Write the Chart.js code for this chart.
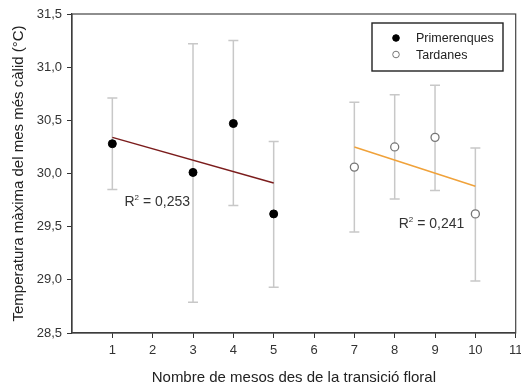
<!DOCTYPE html>
<html>
<head>
<meta charset="utf-8">
<script src="https://cdn.jsdelivr.net/npm/chart.js@4.4.0/dist/chart.umd.min.js"></script>
<style>
  html, body { margin: 0; padding: 0; background: #fff; }
  #wrap { width: 521px; height: 387px; }
</style>
</head>
<body>
<div id="wrap"><canvas id="myChart" width="521" height="387"></canvas></div>
<script>
// values
var earlyX = [1, 3, 4, 5];
var earlyMean = [30.28, 30.01, 30.47, 29.62];
var earlyHigh = [30.71, 31.22, 31.25, 30.30];
var earlyLow = [29.85, 28.79, 29.70, 28.93];

var lateX = [7, 8, 9, 10];
var lateMean = [30.06, 30.25, 30.34, 29.62];
var lateHigh = [30.67, 30.74, 30.83, 30.24];
var lateLow = [29.45, 29.76, 29.84, 28.99];

// regression line ends
var earlyFitX = [1, 5];
var earlyFitY = [30.34, 29.91];
var lateFitX = [7, 10];
var lateFitY = [30.25, 29.88];

var r2Text = ['0,253', '0,241'];
var r2Pos = [[1.3, 29.74], [8.1, 29.53]];

var xTicks = [1, 2, 3, 4, 5, 6, 7, 8, 9, 10, 11];
var yTicks = [28.5, 29.0, 29.5, 30.0, 30.5, 31.0, 31.5];

var FONT = "'Liberation Sans', Arial, sans-serif";

function toPoints(xs, ys) {
  return xs.map(function (x, i) { return { x: x, y: ys[i] }; });
}

// grey error bars behind the points
var errorBars = {
  id: 'errorBars',
  beforeDatasetsDraw: function (chart) {
    var ctx = chart.ctx;
    var xs = chart.scales.x, ys = chart.scales.y;
    var groups = [[earlyX, earlyLow, earlyHigh], [lateX, lateLow, lateHigh]];
    ctx.save();
    ctx.strokeStyle = '#c8c8c8';
    ctx.lineWidth = 1.5;
    groups.forEach(function (g) {
      g[0].forEach(function (x, i) {
        var px = xs.getPixelForValue(x);
        var lo = ys.getPixelForValue(g[1][i]);
        var hi = ys.getPixelForValue(g[2][i]);
        ctx.beginPath();
        ctx.moveTo(px, lo); ctx.lineTo(px, hi);
        ctx.moveTo(px - 5, lo); ctx.lineTo(px + 5, lo);
        ctx.moveTo(px - 5, hi); ctx.lineTo(px + 5, hi);
        ctx.stroke();
      });
    });
    ctx.restore();
  }
};

// frame, legend box and R² labels
var extras = {
  id: 'extras',
  afterDraw: function (chart) {
    var ctx = chart.ctx;
    var a = chart.chartArea;
    var xs = chart.scales.x, ys = chart.scales.y;
    ctx.save();
    ctx.strokeStyle = '#444';
    ctx.lineWidth = 1.2;
    ctx.strokeRect(a.left, a.top, a.right - a.left, a.bottom - a.top);

    // legend
    var lx = 372, ly = 23, lw = 131, lh = 48;
    ctx.fillStyle = '#fff';
    ctx.fillRect(lx, ly, lw, lh);
    ctx.strokeStyle = '#222';
    ctx.lineWidth = 1.4;
    ctx.strokeRect(lx, ly, lw, lh);
    var items = [chart.data.datasets[0], chart.data.datasets[1]];
    ctx.font = '12.5px ' + FONT;
    ctx.textBaseline = 'middle';
    items.forEach(function (ds, i) {
      var cy = ly + 15 + i * 16.5;
      ctx.beginPath();
      ctx.arc(lx + 24, cy, 3.3, 0, Math.PI * 2);
      ctx.fillStyle = ds.pointBackgroundColor;
      ctx.fill();
      ctx.strokeStyle = ds.pointBorderColor;
      ctx.lineWidth = 1;
      ctx.stroke();
      ctx.fillStyle = '#222';
      ctx.fillText(ds.label, lx + 44, cy + 1);
    });

    // R² labels
    ctx.fillStyle = '#333';
    ctx.textBaseline = 'alphabetic';
    r2Pos.forEach(function (p, i) {
      var px = xs.getPixelForValue(p[0]);
      var py = ys.getPixelForValue(p[1]) + 5;
      ctx.font = '14px ' + FONT;
      ctx.fillText('R', px, py);
      var w = ctx.measureText('R').width;
      ctx.font = '8px ' + FONT;
      ctx.fillText('2', px + w, py - 6);
      var w2 = ctx.measureText('2').width;
      ctx.font = '14px ' + FONT;
      ctx.fillText(' = ' + r2Text[i], px + w + w2, py);
    });
    ctx.restore();
  }
};

new Chart('myChart', {
  type: 'scatter',
  data: {
    datasets: [
      {
        label: 'Primerenques',
        data: toPoints(earlyX, earlyMean),
        pointRadius: 4,
        pointBackgroundColor: '#000',
        pointBorderColor: '#000',
        pointBorderWidth: 1,
        order: 0
      },
      {
        label: 'Tardanes',
        data: toPoints(lateX, lateMean),
        pointRadius: 4,
        pointBackgroundColor: '#fff',
        pointBorderColor: '#777',
        pointBorderWidth: 1.3,
        order: 0
      },
      {
        label: 'fit1',
        type: 'line',
        data: toPoints(earlyFitX, earlyFitY),
        borderColor: '#7b1c1c',
        borderWidth: 1.5,
        pointRadius: 0,
        order: 1
      },
      {
        label: 'fit2',
        type: 'line',
        data: toPoints(lateFitX, lateFitY),
        borderColor: '#f0a23a',
        borderWidth: 1.5,
        pointRadius: 0,
        order: 1
      }
    ]
  },
  options: {
    responsive: false,
    animation: false,
    layout: { padding: { top: 14, right: 5, left: 0, bottom: 0 } },
    plugins: {
      legend: { display: false },
      tooltip: { enabled: false }
    },
    scales: {
      x: {
        type: 'linear',
        min: 0,
        max: 11,
        afterBuildTicks: function (scale) {
          scale.ticks = xTicks.map(function (v) { return { value: v }; });
        },
        afterFit: function (scale) {
          scale.height = 54;
          scale.paddingLeft = 0;
          scale.paddingRight = 0;
        },
        grid: { drawOnChartArea: false, drawTicks: true, tickLength: 5, color: '#333' },
        border: { display: true, color: '#333', width: 1.2 },
        ticks: { color: '#333', font: { family: FONT, size: 13 }, padding: 5 },
        title: {
          display: true,
          text: 'Nombre de mesos des de la transició floral',
          color: '#222',
          font: { family: FONT, size: 15 },
          padding: { top: 0, bottom: 0 }
        }
      },
      y: {
        type: 'linear',
        min: 28.5,
        max: 31.5,
        afterBuildTicks: function (scale) {
          scale.ticks = yTicks.map(function (v) { return { value: v }; });
        },
        afterFit: function (scale) {
          scale.width = 72;
          scale.paddingTop = 0;
          scale.paddingBottom = 0;
        },
        grid: { drawOnChartArea: false, drawTicks: true, tickLength: 5, color: '#333' },
        border: { display: true, color: '#333', width: 1.2 },
        ticks: {
          color: '#333',
          font: { family: FONT, size: 13 },
          padding: 5,
          callback: function (v) { return v.toFixed(1).replace('.', ','); }
        },
        title: {
          display: true,
          text: 'Temperatura màxima del mes més càlid (°C)',
          color: '#222',
          font: { family: FONT, size: 15 },
          padding: { top: 10, bottom: 0 }
        }
      }
    }
  },
  plugins: [errorBars, extras]
});
</script>
</body>
</html>
